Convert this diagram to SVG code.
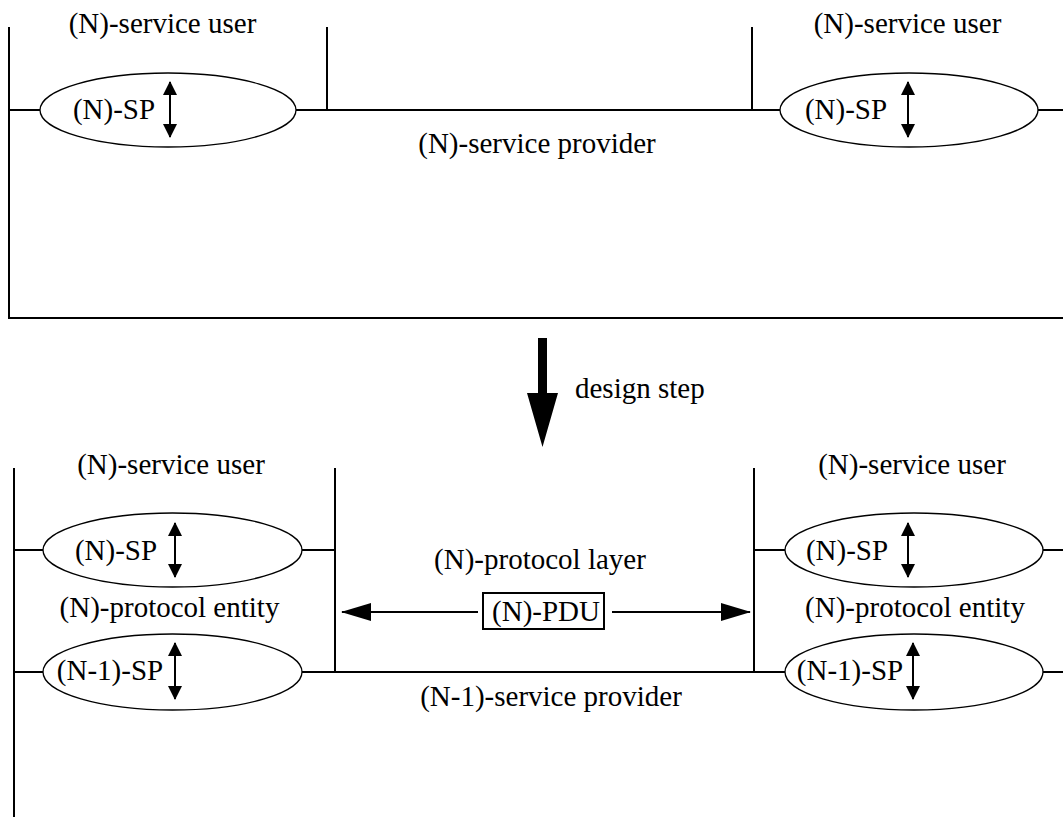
<svg xmlns="http://www.w3.org/2000/svg" width="1063" height="817" viewBox="0 0 1063 817">
<defs>
<style>
.ln{stroke:#000;stroke-width:2;fill:none}
.el{stroke:#000;stroke-width:1.3;fill:#fff}
text{font-family:'Liberation Serif','Times New Roman',Times,serif;font-size:29px;fill:#000}
.m{text-anchor:middle}
.hd{fill:#000;stroke:none}
</style>
<marker id="ah" viewBox="0 0 14 14" refX="13" refY="7" markerWidth="14" markerHeight="14" markerUnits="userSpaceOnUse" orient="auto-start-reverse">
<path d="M0,0 L14,7 L0,14 Z" class="hd"/>
</marker>
<marker id="big" viewBox="0 0 30 18" refX="29" refY="9" markerWidth="30" markerHeight="18" markerUnits="userSpaceOnUse" orient="auto-start-reverse">
<path d="M0,0 L30,9 L0,18 Z" class="hd"/>
</marker>
</defs>
<rect width="1063" height="817" fill="#fff"/>

<g id="connectors">
<line class="ln" x1="9" y1="27" x2="9" y2="319"/>
<line class="ln" x1="8" y1="318" x2="1063" y2="318"/>
<line class="ln" x1="9" y1="110" x2="40" y2="110"/>
<line class="ln" x1="296" y1="110" x2="780" y2="110"/>
<line class="ln" x1="1038" y1="110" x2="1063" y2="110"/>
<line class="ln" x1="327" y1="27" x2="327" y2="110"/>
<line class="ln" x1="752" y1="27" x2="752" y2="110"/>
<line class="ln" x1="14" y1="468" x2="14" y2="817"/>
<line class="ln" x1="14" y1="550" x2="43" y2="550"/>
<line class="ln" x1="302" y1="550" x2="335" y2="550"/>
<line class="ln" x1="754" y1="550" x2="785" y2="550"/>
<line class="ln" x1="1043" y1="550" x2="1063" y2="550"/>
<line class="ln" x1="14" y1="672" x2="43" y2="672"/>
<line class="ln" x1="302" y1="672" x2="785" y2="672"/>
<line class="ln" x1="1043" y1="672" x2="1063" y2="672"/>
<line class="ln" x1="335" y1="468" x2="335" y2="673"/>
<line class="ln" x1="754" y1="468" x2="754" y2="673"/>
<line class="ln" x1="478" y1="612" x2="342" y2="612" marker-end="url(#big)"/>
<line class="ln" x1="612" y1="612" x2="750" y2="612" marker-end="url(#big)"/>
<polygon class="hd" points="538,338 547,338 547,393 558,393 542.5,447 527,393 538,393"/>
</g>

<g id="top-left-user">
<text class="m" x="162.5" y="33">(N)-service user</text>
</g>
<g id="top-right-user">
<text class="m" x="907.5" y="33">(N)-service user</text>
</g>
<g id="top-left-sp">
<ellipse class="el" cx="168" cy="110" rx="128" ry="37"/>
<text class="m" x="114" y="119">(N)-SP</text>
<line class="ln" x1="170" y1="82" x2="170" y2="137" marker-start="url(#ah)" marker-end="url(#ah)"/>
</g>
<g id="top-right-sp">
<ellipse class="el" cx="909" cy="110" rx="129" ry="37"/>
<text class="m" x="846" y="119">(N)-SP</text>
<line class="ln" x1="908" y1="82" x2="908" y2="137" marker-start="url(#ah)" marker-end="url(#ah)"/>
</g>
<g id="top-provider">
<text class="m" x="537" y="153">(N)-service provider</text>
</g>
<g id="design-step">
<text x="575" y="398">design step</text>
</g>

<g id="bottom-left-user">
<text class="m" x="171" y="474">(N)-service user</text>
</g>
<g id="bottom-right-user">
<text class="m" x="912" y="474">(N)-service user</text>
</g>
<g id="bottom-left-nsp">
<ellipse class="el" cx="172.5" cy="550" rx="129.5" ry="37"/>
<text class="m" x="116" y="560">(N)-SP</text>
<line class="ln" x1="175" y1="523" x2="175" y2="577" marker-start="url(#ah)" marker-end="url(#ah)"/>
</g>
<g id="bottom-left-entity">
<text class="m" x="169.5" y="617">(N)-protocol entity</text>
</g>
<g id="bottom-left-n1sp">
<ellipse class="el" cx="172.5" cy="672" rx="129.5" ry="38"/>
<text class="m" x="110" y="680">(N-1)-SP</text>
<line class="ln" x1="175" y1="643" x2="175" y2="699" marker-start="url(#ah)" marker-end="url(#ah)"/>
</g>
<g id="bottom-right-nsp">
<ellipse class="el" cx="914" cy="550" rx="129" ry="37"/>
<text class="m" x="847" y="560">(N)-SP</text>
<line class="ln" x1="908" y1="523" x2="908" y2="577" marker-start="url(#ah)" marker-end="url(#ah)"/>
</g>
<g id="bottom-right-entity">
<text class="m" x="915" y="617">(N)-protocol entity</text>
</g>
<g id="bottom-right-n1sp">
<ellipse class="el" cx="914" cy="672" rx="129" ry="38"/>
<text class="m" x="850" y="680">(N-1)-SP</text>
<line class="ln" x1="913" y1="643" x2="913" y2="699" marker-start="url(#ah)" marker-end="url(#ah)"/>
</g>
<g id="protocol-layer">
<text class="m" x="540" y="569">(N)-protocol layer</text>
</g>
<g id="pdu">
<rect x="483" y="593" width="121" height="36" fill="#fff" stroke="#000" stroke-width="2"/>
<text class="m" x="546" y="621">(N)-PDU</text>
</g>
<g id="bottom-provider">
<text class="m" x="551" y="706">(N-1)-service provider</text>
</g>
</svg>
